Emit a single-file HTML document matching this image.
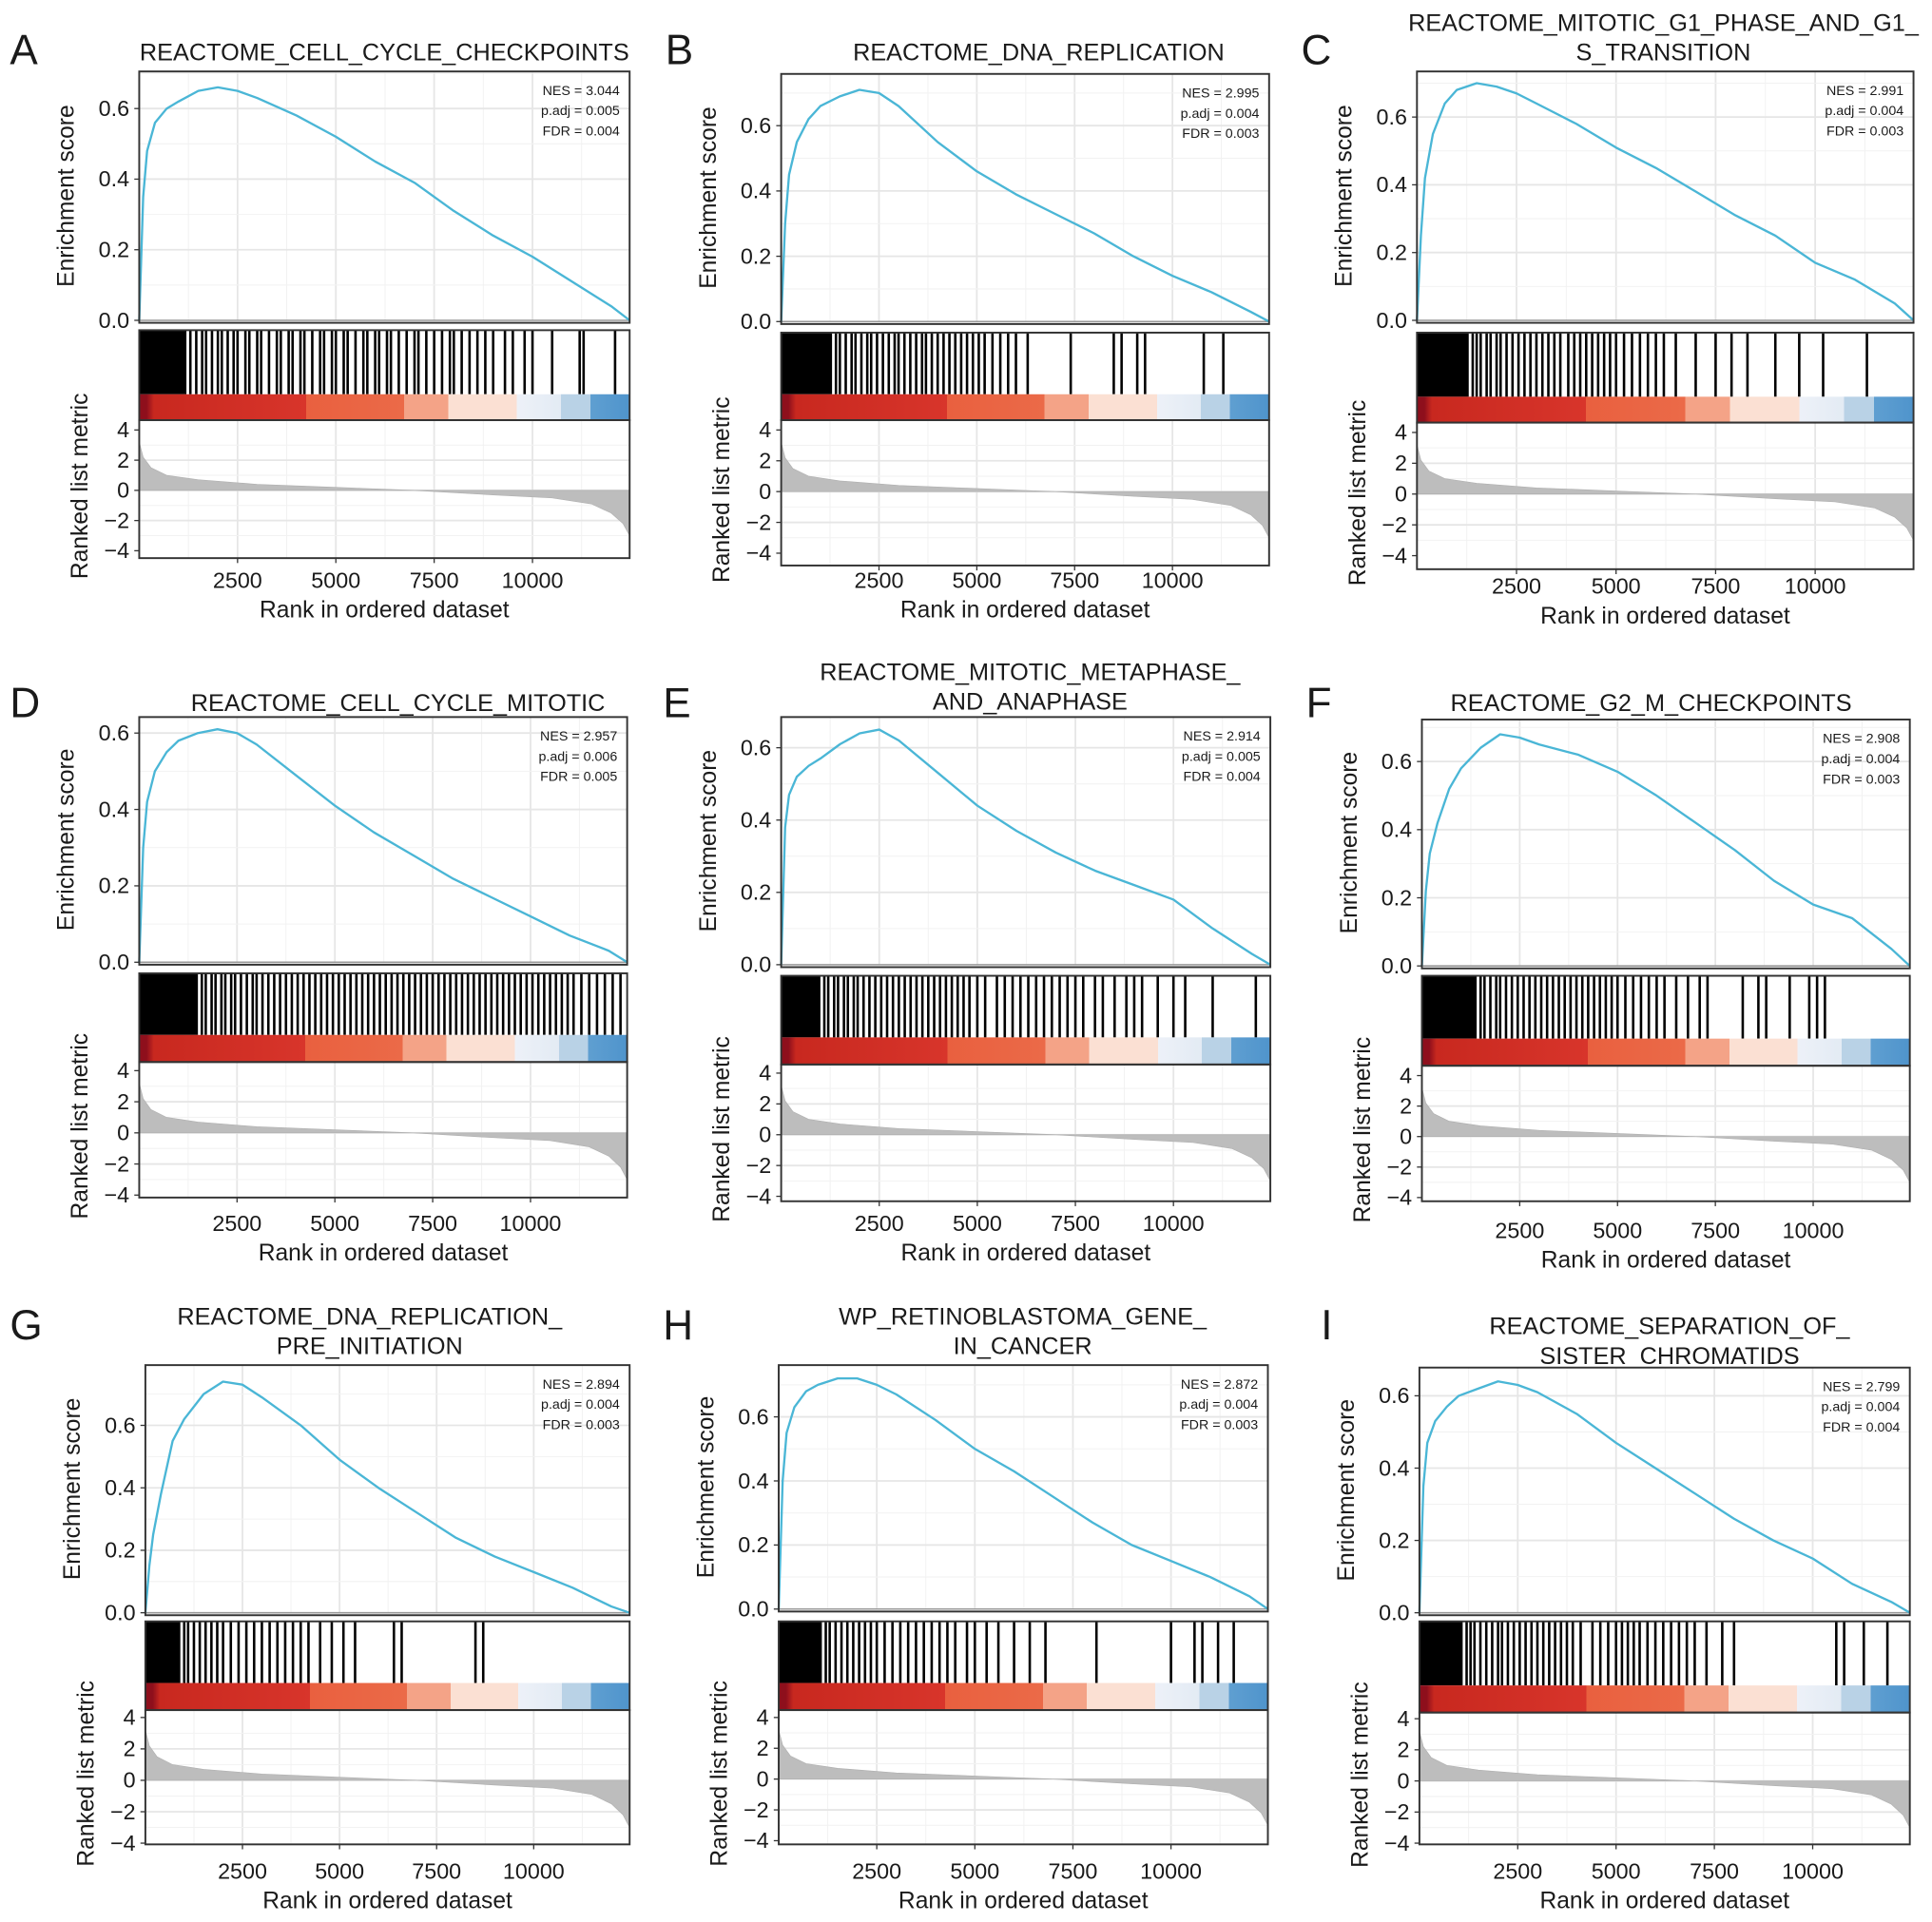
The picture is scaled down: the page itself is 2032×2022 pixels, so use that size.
<!DOCTYPE html>
<html><head><meta charset="utf-8"><style>
html,body{margin:0;padding:0;background:#fff}
svg{display:block}
text{font-family:"Liberation Sans",Arial,sans-serif;fill:#1a1a1a}
</style></head><body>
<svg id="fig" width="2032" height="2022" viewBox="0 0 1568 1560" preserveAspectRatio="none" xmlns="http://www.w3.org/2000/svg"></svg>
<script>
// ---- data ----
const rankPts = [0,100,200,400,700,1000,1500,2000,2500,3000,4000,5000,6000,7000,8000,9000,10000,11000,12000,12470];
const esA = [0,0.35,0.48,0.56,0.6,0.62,0.65,0.66,0.65,0.63,0.58,0.52,0.45,0.39,0.31,0.24,0.18,0.11,0.04,0];
const esB = [0,0.3,0.45,0.55,0.62,0.66,0.69,0.71,0.7,0.66,0.55,0.46,0.39,0.33,0.27,0.2,0.14,0.09,0.03,0];
const esC = [0,0.25,0.42,0.55,0.64,0.68,0.7,0.69,0.67,0.64,0.58,0.51,0.45,0.38,0.31,0.25,0.17,0.12,0.05,0];
const esD = [0,0.3,0.42,0.5,0.55,0.58,0.6,0.61,0.6,0.57,0.49,0.41,0.34,0.28,0.22,0.17,0.12,0.07,0.03,0];
const esE = [0,0.38,0.47,0.52,0.55,0.57,0.61,0.64,0.65,0.62,0.53,0.44,0.37,0.31,0.26,0.22,0.18,0.1,0.03,0];
const esF = [0,0.22,0.33,0.42,0.52,0.58,0.64,0.68,0.67,0.65,0.62,0.57,0.5,0.42,0.34,0.25,0.18,0.14,0.05,0];
const esG = [0,0.15,0.25,0.38,0.55,0.62,0.7,0.74,0.73,0.69,0.6,0.49,0.4,0.32,0.24,0.18,0.13,0.08,0.02,0];
const esH = [0,0.4,0.55,0.63,0.68,0.7,0.72,0.72,0.7,0.67,0.59,0.5,0.43,0.35,0.27,0.2,0.15,0.1,0.04,0];
const esI = [0,0.35,0.47,0.53,0.57,0.6,0.62,0.64,0.63,0.61,0.55,0.47,0.4,0.33,0.26,0.2,0.15,0.08,0.03,0];
const metricRanks = [0,100,300,700,1500,3000,5000,7000,9000,10500,11500,12000,12300,12470];
const metricVals = [3.2,2.2,1.5,1.0,0.7,0.4,0.2,0,-0.3,-0.5,-0.9,-1.5,-2.2,-3.0];
const xTicks = [2500,5000,7500,10000];
const esTicks = [0,0.2,0.4,0.6];
const metricTicks = [4,2,0,-2,-4];
const titles = [["REACTOME_CELL_CYCLE_CHECKPOINTS"],["REACTOME_DNA_REPLICATION"],["REACTOME_MITOTIC_G1_PHASE_AND_G1_","S_TRANSITION"],["REACTOME_CELL_CYCLE_MITOTIC"],["REACTOME_MITOTIC_METAPHASE_","AND_ANAPHASE"],["REACTOME_G2_M_CHECKPOINTS"],["REACTOME_DNA_REPLICATION_","PRE_INITIATION"],["WP_RETINOBLASTOMA_GENE_","IN_CANCER"],["REACTOME_SEPARATION_OF_","SISTER_CHROMATIDS"]];
const nes = ["3.044","2.995","2.991","2.957","2.914","2.908","2.894","2.872","2.799"];
const padj = ["0.005","0.004","0.004","0.006","0.005","0.004","0.004","0.004","0.004"];
const fdr = ["0.004","0.003","0.003","0.005","0.004","0.003","0.003","0.003","0.004"];
const denseEnd = [1200,1300,1300,1500,1000,1400,900,1100,1100];
const hitsA = [1300,1450,1600,1700,1850,2000,2100,2250,2400,2500,2700,2800,3000,3100,3300,3500,3600,3800,3900,4100,4200,4400,4600,4700,4900,5000,5200,5300,5500,5700,5800,6000,6100,6300,6400,6600,6800,7000,7100,7300,7500,7700,7900,8000,8200,8400,8600,8800,9000,9300,9500,9800,10000,10500,11200,11300,12100];
const hitsB = [1400,1500,1650,1800,1900,2050,2200,2300,2450,2600,2750,2900,3000,3150,3300,3450,3600,3700,3850,4000,4150,4300,4450,4600,4750,4900,5050,5200,5400,5600,5800,6000,6300,7400,8500,8700,9100,9300,10800,11300];
const hitsC = [1400,1500,1600,1750,1850,2000,2100,2250,2400,2550,2700,2850,3000,3150,3300,3450,3600,3800,3950,4100,4250,4400,4550,4700,4850,5000,5200,5400,5600,5800,6000,6200,6500,7000,7500,7900,8300,9000,9600,10200,11300];
const hitsD = [1600,1700,1850,1950,2100,2200,2350,2450,2600,2750,2900,3000,3150,3300,3450,3600,3750,3900,4050,4200,4350,4500,4650,4800,4950,5100,5250,5400,5550,5700,5850,6000,6150,6300,6450,6600,6750,6900,7050,7200,7350,7500,7650,7800,7950,8100,8250,8400,8550,8700,8850,9000,9150,9300,9450,9600,9750,9900,10050,10200,10350,10500,10650,10800,10950,11100,11300,11500,11700,11900,12100,12300];
const hitsE = [1100,1200,1350,1450,1600,1700,1850,1950,2100,2250,2400,2550,2700,2850,3000,3150,3300,3450,3600,3750,3900,4050,4200,4350,4500,4650,4800,5000,5200,5500,5700,5900,6100,6300,6500,6700,6900,7100,7300,7500,7700,8000,8200,8500,8800,9000,9200,9600,10000,10300,11000,12100];
const hitsF = [1500,1600,1750,1900,2000,2150,2300,2450,2600,2750,2900,3050,3200,3350,3500,3650,3800,3950,4100,4250,4400,4550,4700,4850,5000,5200,5400,5600,5800,6000,6200,6500,6800,7100,7300,8200,8600,8800,9400,9900,10100,10300];
const hitsG = [1000,1100,1250,1400,1550,1700,1850,2000,2200,2400,2600,2800,3000,3200,3400,3600,3800,4000,4200,4500,4800,5100,5400,6400,6600,8500,8700];
const hitsH = [1200,1300,1450,1600,1750,1900,2050,2200,2350,2500,2700,2900,3100,3300,3500,3700,3900,4100,4300,4500,4800,5000,5300,5600,6000,6400,6800,8100,10000,10600,10800,11200,11600];
const hitsI = [1200,1300,1400,1550,1700,1850,2000,2100,2250,2400,2550,2700,2850,3000,3150,3300,3450,3600,3750,3900,4100,4400,4600,4800,5000,5150,5300,5450,5600,5800,6000,6200,6400,6600,6800,7000,7300,7700,8000,10600,10800,11300,11900];
const esSeries = [esA,esB,esC,esD,esE,esF,esG,esH,esI];
const hitSeries = [hitsA,hitsB,hitsC,hitsD,hitsE,hitsF,hitsG,hitsH,hitsI];
const letters = ["A","B","C","D","E","F","G","H","I"];
// ---- layout (pixels in 1568x1560 space) ----
const L = [
 {x0:113,x1:511,t:58,z:260,s:57.3,bc:268,st:320,rk:341,r4:349,rm4:447,rb:453,tl:471,xl:495,ty:49,tx:312,lx:8,ly:52},
 {x0:634,x1:1030,t:60,z:261,s:53,bc:270,st:320,rk:341,r4:349,rm4:449,rb:459,tl:471,xl:495,ty:49,tx:843,lx:540,ly:52},
 {x0:1150,x1:1553,t:58,z:260,s:55,bc:270,st:322,rk:343,r4:351,rm4:451,rb:462,tl:476,xl:500,ty:25,tx:1350,lx:1056,ly:52},
 {x0:113,x1:509,t:582,z:781,s:62,bc:790,st:840,rk:862,r4:869,rm4:970,rb:972,tl:993,xl:1017,ty:577,tx:323,lx:8,ly:582},
 {x0:634,x1:1031,t:582,z:783,s:58.7,bc:792,st:842,rk:864,r4:871,rm4:971,rb:975,tl:993,xl:1017,ty:552,tx:836,lx:538,ly:582},
 {x0:1154,x1:1550,t:584,z:784,s:55.3,bc:792,st:843,rk:865,r4:873,rm4:972,rb:975,tl:999,xl:1023,ty:577,tx:1340,lx:1060,ly:582},
 {x0:118,x1:511,t:1108,z:1309,s:50.7,bc:1316,st:1366,rk:1388,r4:1394,rm4:1496,rb:1497,tl:1519,xl:1543,ty:1075,tx:300,lx:8,ly:1087},
 {x0:632,x1:1029,t:1108,z:1306,s:52,bc:1316,st:1366,rk:1388,r4:1394,rm4:1494,rb:1497,tl:1519,xl:1543,ty:1075,tx:830,lx:538,ly:1087},
 {x0:1152,x1:1550,t:1110,z:1309,s:58.7,bc:1316,st:1368,rk:1390,r4:1395,rm4:1496,rb:1497,tl:1519,xl:1543,ty:1083,tx:1355,lx:1072,ly:1087}
];
const NS="http://www.w3.org/2000/svg";
const svg=document.getElementById('fig');
function mk(tag,attrs,parent){const e=document.createElementNS(NS,tag);for(const k in attrs)e.setAttribute(k,attrs[k]);(parent||svg).appendChild(e);return e;}
const XMAX=12470;
const defs=mk('defs',{});
const grad=mk('linearGradient',{id:'strip',x1:0,x2:1,y1:0,y2:0},defs);
[[0,'#8e0f1c'],[0.015,'#8e0f1c'],[0.03,'#c8281f'],[0.34,'#d8352b'],[0.34,'#e9603f'],[0.54,'#eb6a48'],[0.54,'#f4a387'],[0.63,'#f4a387'],[0.63,'#fbe0d3'],[0.77,'#fbe0d3'],[0.77,'#edf1f8'],[0.86,'#e3ebf4'],[0.86,'#b9d2e6'],[0.92,'#b9d2e6'],[0.92,'#5f9fd1'],[1,'#4f94cc']].forEach(s=>mk('stop',{offset:s[0],'stop-color':s[1]},grad));

L.forEach((p,i)=>{
  const g=mk('g',{});
  
  
  const xs=r=>p.x0+(r/XMAX)*(p.x1-p.x0);
  const ys=v=>p.z-v/0.2*p.s;
  const ms=v=>p.r4+(4-v)/8*(p.rm4-p.r4);
  const lt=mk('text',{x:p.lx,y:p.ly,'font-size':34},g); lt.textContent=letters[i];
   
  titles[i].forEach((t,j)=>{const e=mk('text',{x:p.tx,y:p.ty+j*24,'font-size':19.5,'text-anchor':'middle'},g);e.textContent=t;
    });
  mk('rect',{x:p.x0,y:p.t,width:p.x1-p.x0,height:p.z+2-p.t,fill:'#fff'},g);
  for(let r=1250;r<XMAX;r+=1250){mk('line',{x1:xs(r),x2:xs(r),y1:p.t,y2:p.z,stroke:r%2500===0?'#e6e6e6':'#f2f2f2','stroke-width':r%2500===0?1.4:0.8},g);
    mk('line',{x1:xs(r),x2:xs(r),y1:p.rk,y2:p.rb,stroke:r%2500===0?'#e6e6e6':'#f2f2f2','stroke-width':r%2500===0?1.4:0.8},g);}
  for(let v=0.1;ys(v)>p.t;v+=0.1){const k=Math.round(v*10)%2===0;mk('line',{x1:p.x0,x2:p.x1,y1:ys(v),y2:ys(v),stroke:k?'#e6e6e6':'#f2f2f2','stroke-width':k?1.4:0.8},g);}
  mk('line',{x1:p.x0,x2:p.x1,y1:p.z,y2:p.z,stroke:'#999','stroke-width':1.2},g);
  const es=esSeries[i];
  let d='';rankPts.forEach((r,k)=>{d+=(k?'L':'M')+xs(r).toFixed(1)+','+ys(es[k]).toFixed(1);});
  const c=mk('path',{d:d,fill:'none',stroke:'#4ab6d6','stroke-width':1.8,'stroke-linejoin':'round'},g);
  
  mk('rect',{x:p.x0,y:p.t,width:p.x1-p.x0,height:p.z+2-p.t,fill:'none',stroke:'#333','stroke-width':1.5},g);
  esTicks.forEach(v=>{mk('line',{x1:p.x0-4,x2:p.x0,y1:ys(v),y2:ys(v),stroke:'#333'},g);
    const e=mk('text',{x:p.x0-8,y:ys(v)+6,'font-size':18,'text-anchor':'end',fill:'#333'},g);e.textContent=v.toFixed(1);
    });
  [['NES = ',nes[i]],['p.adj = ',padj[i]],['FDR = ',fdr[i]]].forEach((s,j)=>{const e=mk('text',{x:p.x1-8,y:p.t+19+j*16.5,'font-size':11,'text-anchor':'end',fill:'#333'},g);e.textContent=s[0]+s[1];
    });
  mk('rect',{x:p.x0,y:p.bc,width:p.x1-p.x0,height:p.st-p.bc,fill:'#fff'},g);
  mk('rect',{x:p.x0,y:p.bc,width:xs(denseEnd[i])-p.x0,height:p.st-p.bc,fill:'#000'},g);
  hitSeries[i].forEach(r=>{const h=mk('line',{x1:xs(r),x2:xs(r),y1:p.bc,y2:p.st,stroke:'#000','stroke-width':2},g);
    });
  mk('rect',{x:p.x0,y:p.st,width:p.x1-p.x0,height:p.rk-p.st,fill:'url(#strip)'},g);
  mk('rect',{x:p.x0,y:p.bc,width:p.x1-p.x0,height:p.rk-p.bc,fill:'none',stroke:'#333','stroke-width':1.5},g);
  for(let v=-3;v<=3;v++){mk('line',{x1:p.x0,x2:p.x1,y1:ms(v),y2:ms(v),stroke:v%2===0?'#e6e6e6':'#f2f2f2','stroke-width':v%2===0?1.4:0.8},g);}
  let a='M'+xs(0)+','+ms(0);metricRanks.forEach((r,k)=>{a+='L'+xs(r).toFixed(1)+','+ms(metricVals[k]).toFixed(1);});a+='L'+xs(XMAX)+','+ms(0)+'Z';
  const ar=mk('path',{d:a,fill:'#bdbdbd',stroke:'#b0b0b0','stroke-width':0.5},g);
  
  mk('rect',{x:p.x0,y:p.rk,width:p.x1-p.x0,height:p.rb-p.rk,fill:'none',stroke:'#333','stroke-width':1.5},g);
  metricTicks.forEach(v=>{mk('line',{x1:p.x0-4,x2:p.x0,y1:ms(v),y2:ms(v),stroke:'#333'},g);
    const e=mk('text',{x:p.x0-8,y:ms(v)+6,'font-size':18,'text-anchor':'end',fill:'#333'},g);e.textContent=v<0?'\u2212'+(-v):String(v);
    });
  xTicks.forEach(r=>{mk('line',{x1:xs(r),x2:xs(r),y1:p.rb,y2:p.rb+4,stroke:'#333'},g);
    const e=mk('text',{x:xs(r),y:p.tl+6,'font-size':18,'text-anchor':'middle',fill:'#333'},g);e.textContent=String(r);
    });
  const xl=mk('text',{x:(p.x0+p.x1)/2,y:p.xl+6,'font-size':19,'text-anchor':'middle'},g);xl.textContent='Rank in ordered dataset';
  
  const cy1=(p.t+p.z)/2, ex=p.x0-53;
  const y1=mk('text',{x:ex,y:cy1,'font-size':19,'text-anchor':'middle',transform:`rotate(-90 ${ex} ${cy1})`},g);y1.textContent='Enrichment score';
  
  const cy2=(p.st+p.rb)/2+8, ex2=p.x0-42;
  const y2=mk('text',{x:ex2,y:cy2,'font-size':19,'text-anchor':'middle',transform:`rotate(-90 ${ex2} ${cy2})`},g);y2.textContent='Ranked list metric';
  
});
</script>
</body></html>
